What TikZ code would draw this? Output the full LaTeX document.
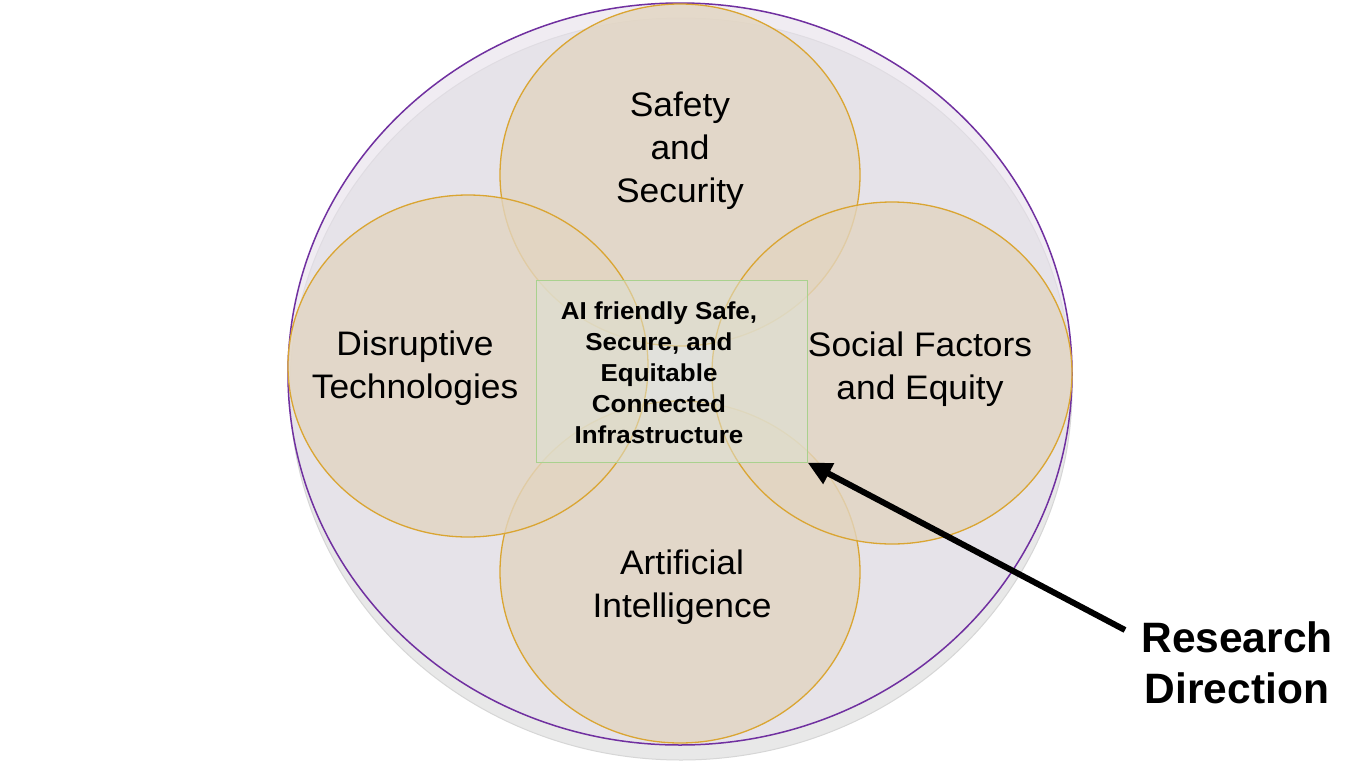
\documentclass[tikz,border=0pt]{standalone}
\usepackage{fontspec}
\setmainfont{Liberation Sans}
\newfontfamily\lblfont[FakeStretch=1.04]{Liberation Sans}
\newfontfamily\boxfont[FakeStretch=1.06]{Liberation Sans}
\usetikzlibrary{arrows.meta,shapes.geometric}
\definecolor{shadowgray}{RGB}{232,232,232}
\definecolor{shadowedge}{RGB}{214,214,214}
\definecolor{lav}{RGB}{230,224,234}
\definecolor{purp}{RGB}{112,48,160}
\definecolor{gold}{RGB}{218,165,50}
\definecolor{tanfill}{RGB}{226,213,193}
\definecolor{boxfill}{RGB}{222,225,210}
\definecolor{boxedge}{RGB}{169,209,142}
\begin{document}
\begin{tikzpicture}[x=1pt,y=-1pt,
  petal/.style={ellipse, draw=gold, line width=1.3pt, fill=tanfill, fill opacity=0.8,
    inner sep=0pt, minimum width=360pt, minimum height=342pt},
  lbl/.style={align=center, inner sep=0pt, font=\lblfont\fontsize{34}{43}\selectfont},
  centretext/.style={align=center, inner sep=0pt, font=\boxfont\fontsize{24.5}{31}\selectfont\bfseries},
  rdtext/.style={align=center, inner sep=0pt, font=\fontsize{42.5}{51}\selectfont\bfseries},
  pointer/.style={line width=6pt, -{Triangle[length=24pt,width=22pt]}}
]
\useasboundingbox (0,0) rectangle (1363,766);
\fill[white] (0,0) rectangle (1363,766);
% shadow and outer circle
\draw[shadowedge, fill=shadowgray, line width=1pt] (681,389) ellipse [x radius=391, y radius=371];
\draw[purp, line width=1.5pt, fill=lav, fill opacity=0.6] (680,374) ellipse [x radius=392, y radius=371];
% four petals
\node[petal] (ptop) at (680,175) {};
\node[petal] (pbot) at (680,572) {};
\node[petal] (pleft) at (468,366) {};
\node[petal] (pright) at (892,373) {};
% centre box
\node[draw=boxedge, line width=1pt, fill=boxfill, fill opacity=0.56, inner sep=0pt,
  minimum width=271pt, minimum height=182pt] (box) at (671.5,371) {};
\node[centretext] (boxtext) at (659,373) {AI friendly Safe,\\Secure, and\\Equitable\\Connected\\Infrastructure};
% labels
\node[lbl] (lsafety) at (680,151) {Safety\\and\\Security};
\node[lbl] (ldisrupt) at (415,368) {Disruptive\\Technologies};
\node[lbl] (lsocial) at (920,369) {Social Factors\\and Equity};
\node[lbl] (lai) at (682,587) {Artificial\\Intelligence};
\node[rdtext] (rd) at (1237,662.5) {Research\\Direction};
% arrow
\coordinate (tail) at (1125,630);
\draw[pointer] (tail) -- (box.south east);
\end{tikzpicture}
\end{document}
